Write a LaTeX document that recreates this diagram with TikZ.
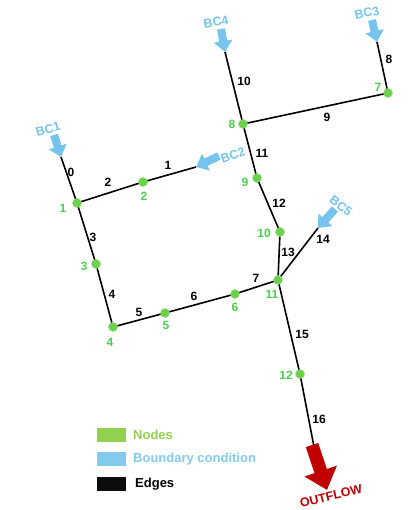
\documentclass[tikz,border=0pt]{standalone}
\usepackage{fontspec}
\setmainfont{Liberation Sans}
\usetikzlibrary{arrows.meta}
\definecolor{ngreen}{HTML}{6CD04A}
\definecolor{lgreen}{HTML}{4CD04C}
\definecolor{bcblue}{HTML}{76C4EE}
\definecolor{ored}{HTML}{C00000}
\definecolor{legreen}{HTML}{92D050}
\definecolor{leblue}{HTML}{82CBEC}
\pgfdeclarelayer{background}
\pgfsetlayers{background,main}
\begin{document}
\begin{tikzpicture}[x=1pt,y=-1pt,
  dot/.style={circle,fill=ngreen,draw=ngreen!70!white,line width=0.6pt,inner sep=0pt,minimum size=9pt},
  edge/.style={line width=1.6pt,black},
  elab/.style={font=\bfseries\fontsize{12}{13}\selectfont,text=black,inner sep=0pt},
  nlab/.style={font=\bfseries\fontsize{12}{13}\selectfont,text=lgreen,inner sep=0pt},
  bclab/.style={font=\bfseries\fontsize{12.5}{13}\selectfont,text=bcblue,inner sep=0pt},
  bcarrow/.style={bcblue,line width=8pt,-{Triangle[width=18pt,length=11pt]}},
  outarrow/.style={ored,line width=13pt,-{Triangle[width=33pt,length=20pt]}},
  legbox/.style={minimum width=29pt,minimum height=14pt,inner sep=0pt},
  legtext/.style={font=\bfseries\fontsize{13}{14}\selectfont,anchor=west,inner sep=0pt}
]
\useasboundingbox (0,0) rectangle (412,510);

% network nodes
\node[dot] (n1)  at (77,203) {};
\node[dot] (n2)  at (143,182) {};
\node[dot] (n3)  at (96,264) {};
\node[dot] (n4)  at (113,327) {};
\node[dot] (n5)  at (165,313) {};
\node[dot] (n6)  at (235,294) {};
\node[dot] (n7)  at (388,93) {};
\node[dot] (n8)  at (243,124) {};
\node[dot] (n9)  at (257,178) {};
\node[dot] (n10) at (280,232) {};
\node[dot] (n11) at (278,280) {};
\node[dot] (n12) at (300,374) {};

% free ends
\coordinate (e1) at (61,157);
\coordinate (e2) at (196,167);
\coordinate (e4) at (225,52);
\coordinate (e3) at (377,42);
\coordinate (e5) at (318,228);
\coordinate (eo) at (315,452);

% boundary arrows
\coordinate (t1) at (54,135);
\coordinate (t2) at (219,156);
\coordinate (t4) at (221,29);
\coordinate (t3) at (372,20);
\coordinate (t5) at (335,209);
\coordinate (to) at (312,445);
\coordinate (ho) at (327,490);

\begin{pgfonlayer}{background}
\draw[edge] (e1) -- (n1.center);
\draw[edge] (n1.center) -- (n2.center);
\draw[edge] (n2.center) -- (e2);
\draw[edge] (n1.center) -- (n3.center);
\draw[edge] (n3.center) -- (n4.center);
\draw[edge] (n4.center) -- (n5.center);
\draw[edge] (n5.center) -- (n6.center);
\draw[edge] (n6.center) -- (n11.center);
\draw[edge] (e3) -- (n7.center);
\draw[edge] (n7.center) -- (n8.center);
\draw[edge] (e4) -- (n8.center);
\draw[edge] (n8.center) -- (n9.center);
\draw[edge] (n9.center) -- (n10.center);
\draw[edge] (n10.center) -- (n11.center);
\draw[edge] (e5) -- (n11.center);
\draw[edge] (n11.center) -- (n12.center);
\draw[edge] (n12.center) -- (eo);
\end{pgfonlayer}

\draw[bcarrow] (t1) -- (e1);
\draw[bcarrow] (t2) -- (e2);
\draw[bcarrow] (t3) -- (e3);
\draw[bcarrow] (t4) -- (e4);
\draw[bcarrow] (t5) -- (e5);
\draw[outarrow] (to) -- (ho);

% boundary labels
\node[bclab,rotate=15] (bc1) at (48,129) {BC1};
\node[bclab,rotate=20] (bc2) at (233,155) {BC2};
\node[bclab,rotate=12] (bc3) at (367,13) {BC3};
\node[bclab,rotate=10] (bc4) at (216,22) {BC4};
\node[bclab,rotate=-38] (bc5) at (341,206) {BC5};
\node[font=\bfseries\fontsize{12.5}{13}\selectfont,text=ored,rotate=13,inner sep=0pt] (outl) at (331,496) {OUTFLOW};

% edge labels
\node[elab] (l0)  at (71,172) {0};
\node[elab] (l1)  at (168,165) {1};
\node[elab] (l2)  at (108,182) {2};
\node[elab] (l3)  at (93,237) {3};
\node[elab] (l4)  at (112,294) {4};
\node[elab] (l5)  at (139,312) {5};
\node[elab] (l6)  at (194,296) {6};
\node[elab] (l7)  at (256,278) {7};
\node[elab] (l8)  at (389,59) {8};
\node[elab] (l9)  at (327,117) {9};
\node[elab] (l10) at (244,81) {10};
\node[elab] (l11) at (262,153) {11};
\node[elab] (l12) at (279,203) {12};
\node[elab] (l13) at (288,252) {13};
\node[elab] (l14) at (323,239) {14};
\node[elab] (l15) at (302,334) {15};
\node[elab] (l16) at (319,419) {16};

% node labels
\node[nlab] (m1)  at (63,208) {1};
\node[nlab] (m2)  at (144,196) {2};
\node[nlab] (m3)  at (84,266) {3};
\node[nlab] (m4)  at (110,342) {4};
\node[nlab] (m5)  at (166,325) {5};
\node[nlab] (m6)  at (235,307) {6};
\node[nlab] (m7)  at (378,87) {7};
\node[nlab] (m8)  at (232,124) {8};
\node[nlab] (m9)  at (245,182) {9};
\node[nlab] (m10) at (264,233) {10};
\node[nlab] (m11) at (272,294) {11};
\node[nlab] (m12) at (286,375) {12};

% legend
\node[legbox,fill=legreen] (g1) at (111.5,435) {};
\node[legbox,fill=leblue] (g2) at (111.5,459) {};
\node[legbox,fill=black!95] (g3) at (111.5,484) {};
\node[legtext,text=legreen] (g1t) at (133,435) {Nodes};
\node[legtext,text=leblue] (g2t) at (133,459) {Boundary condition};
\node[legtext,text=black] (g3t) at (135,484) {Edges};
\end{tikzpicture}
\end{document}
